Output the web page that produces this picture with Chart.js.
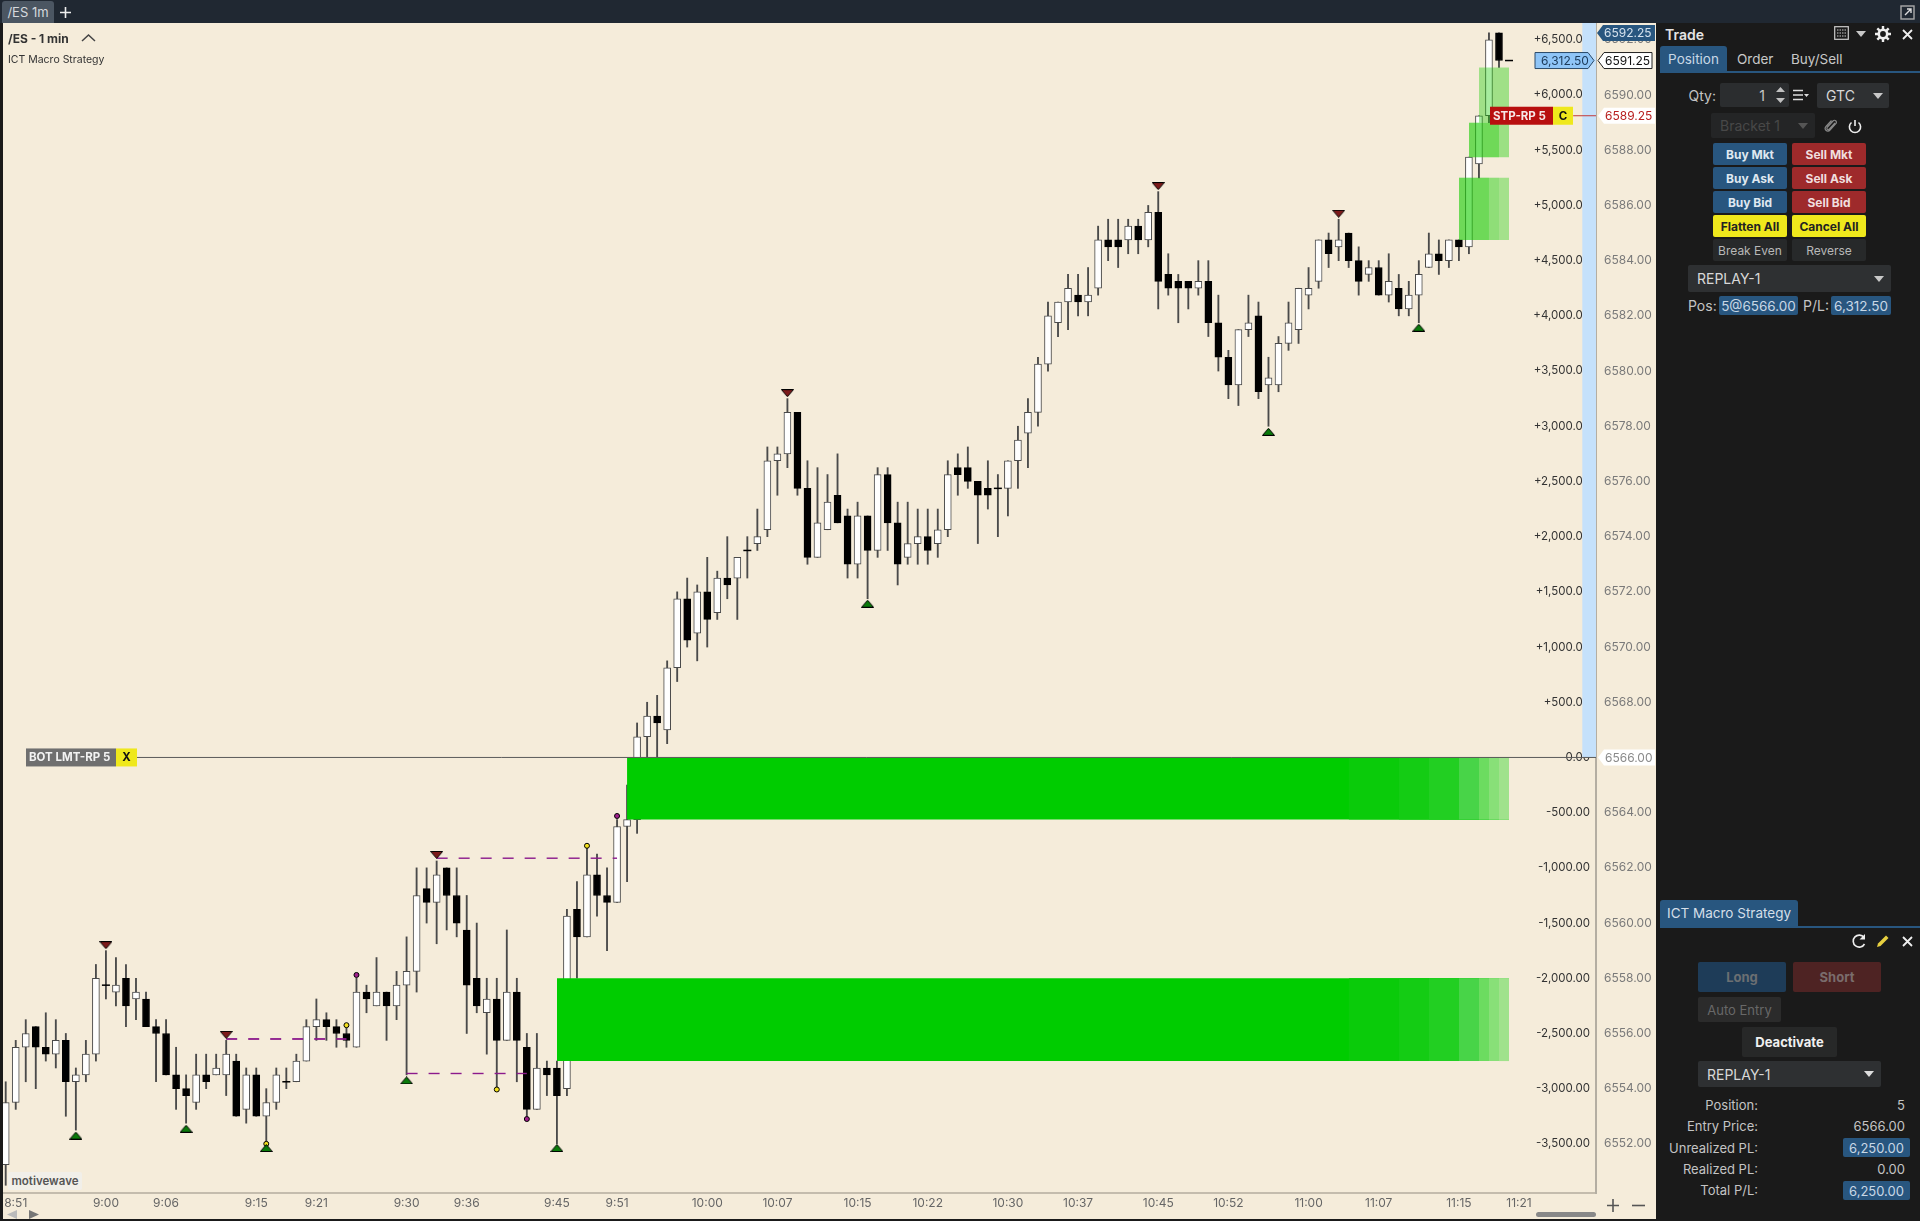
<!DOCTYPE html>
<html>
<head>
<meta charset="utf-8">
<title>/ES 1m</title>
<script src="https://cdn.jsdelivr.net/npm/chart.js@4/dist/chart.umd.min.js"></script>
<style>
html, body { margin: 0; padding: 0; width: 1920px; height: 1221px; overflow: hidden; background: #1a1a1a; font-family: Inter, "Noto Sans", sans-serif; }
.a { position: absolute; box-sizing: border-box; white-space: nowrap; }
.box { display: flex; align-items: center; justify-content: center; border-radius: 2px; }
.btn { font-weight: 700; font-size: 12px; width: 74px; height: 22px; }
.blue { background: #28567f; color: #dfe8f0; }
.red { background: #9e2a2b; color: #f0dede; }
.yel { background: #efe81c; color: #222; }
.drk { background: #27292a; color: #b8b8b8; font-weight: 400; }
.sel { background: #2e3032; color: #d8d8d8; font-size: 14px; justify-content: flex-start; padding-left: 9px; }
.lbl { color: #c4c4c4; font-size: 13px; }
.r { text-align: right; }
.tri { position: absolute; width: 0; height: 0; border-left: 5px solid transparent; border-right: 5px solid transparent; border-top: 6px solid #c8c8c8; }
</style>
</head>
<body>
<div class="a" style="left:0;top:0;width:1920px;height:23px;background:#202832"></div>
<div class="a box" style="left:2px;top:1px;width:52px;height:22px;background:#4b5662;color:#d5d9dd;font-size:13px;border-radius:3px 3px 0 0">/ES 1m</div>
<svg class="a" style="left:59px;top:6px" width="13" height="13"><path d="M6.5 1V12M1 6.5H12" stroke="#eee" stroke-width="1.6"/></svg>
<svg class="a" style="left:1900px;top:5px" width="15" height="15"><rect x="1" y="1" width="13" height="13" fill="none" stroke="#aaa" stroke-width="1.4"/><path d="M5 10L11 4M7 4H11V8" stroke="#ddd" stroke-width="1.4" fill="none"/></svg>

<canvas id="chart" class="a" style="left:3px;top:23px;background:#f5ecda" width="1653" height="1196"></canvas>

<div class="a" style="left:8px;top:31px;font-size:12px;font-weight:700;color:#333">/ES - 1 min</div>
<svg class="a" style="left:81px;top:33px" width="15" height="10"><path d="M1 8L7.5 2L14 8" stroke="#444" stroke-width="1.5" fill="none"/></svg>
<div class="a" style="left:8px;top:53px;font-size:10.5px;color:#333">ICT Macro Strategy</div>
<div class="a box" style="left:8px;top:1172px;width:74px;height:18px;background:#f1efe9;color:#555;font-size:11.5px;font-weight:600">motivewave</div>
<svg class="a" style="left:7px;top:1210px" width="32" height="9"><path d="M0 4.5L10 0V9Z" fill="#bbb"/><path d="M32 4.5L22 0V9Z" fill="#777"/></svg>
<svg class="a" style="left:1606px;top:1199px" width="40" height="13"><path d="M7 0V13M1 6.5H13" stroke="#555" stroke-width="1.6"/><path d="M26 6.5H39" stroke="#555" stroke-width="1.6"/></svg>
<div class="a" style="left:1536px;top:1212px;width:60px;height:5px;background:#888;border-radius:3px"></div>

<!-- trade panel -->
<div class="a" style="left:1665px;top:26px;font-size:14px;font-weight:600;color:#e4e4e4">Trade</div>
<svg class="a" style="left:1834px;top:26px" width="15" height="14"><rect x="0.7" y="0.7" width="13.6" height="12.6" fill="none" stroke="#ccc" stroke-width="1.2"/><path d="M3 4H12M3 7H12M3 10H12" stroke="#ccc" stroke-dasharray="1.5 1"/></svg>
<div class="tri" style="left:1856px;top:31px"></div>
<svg class="a" style="left:1875px;top:26px" width="16" height="16" viewBox="0 0 16 16"><circle cx="8" cy="8" r="4.2" fill="none" stroke="#eee" stroke-width="2.6"/><path d="M8 0V3M8 13V16M0 8H3M13 8H16M2.3 2.3L4.4 4.4M11.6 11.6L13.7 13.7M2.3 13.7L4.4 11.6M11.6 4.4L13.7 2.3" stroke="#eee" stroke-width="2.4"/></svg>
<svg class="a" style="left:1902px;top:29px" width="11" height="11"><path d="M1 1L10 10M10 1L1 10" stroke="#eee" stroke-width="1.8"/></svg>

<div class="a box" style="left:1660px;top:46px;width:67px;height:26px;background:#28567f;color:#c8d8e6;font-size:13.5px;border-radius:3px 3px 0 0">Position</div>
<div class="a" style="left:1737px;top:51px;font-size:13.5px;color:#c8c8c8">Order</div>
<div class="a" style="left:1791px;top:51px;font-size:13.5px;color:#c8c8c8">Buy/Sell</div>
<div class="a" style="left:1660px;top:71px;width:260px;height:1.5px;background:#28567f"></div>

<div class="a lbl r" style="left:1680px;top:87px;width:36px;font-size:14px">Qty:</div>
<div class="a box" style="left:1720px;top:83px;width:69px;height:24px;background:#2b2d2f;color:#c8c8c8;font-size:14px;justify-content:flex-end;padding-right:24px">1</div>
<svg class="a" style="left:1775px;top:86px" width="11" height="18"><path d="M1 6L5.5 1L10 6ZM1 12L5.5 17L10 12Z" fill="#c0c0c0"/></svg>
<svg class="a" style="left:1793px;top:89px" width="16" height="12"><path d="M0 1.5H10M0 6H10M0 10.5H10" stroke="#ddd" stroke-width="1.5"/><path d="M11 5H16L13.5 8Z" fill="#ddd"/></svg>
<div class="a box sel" style="left:1817px;top:83px;width:72px;height:25px">GTC</div>
<div class="tri" style="left:1873px;top:93px"></div>
<div class="a box" style="left:1711px;top:113px;width:104px;height:25px;background:#242526;color:#484848;font-size:14px;justify-content:flex-start;padding-left:9px">Bracket 1</div>
<div class="tri" style="left:1798px;top:123px;border-top-color:#555"></div>
<svg class="a" style="left:1824px;top:118px" width="15" height="16"><path d="M11 5L5.5 11C4 12.8 2 11 3.5 9L9 3C10.8 1 13.5 3.5 11.8 5.6L6 12C3.5 15 -0.5 11.5 2 8.5L7.5 2.5" fill="none" stroke="#888" stroke-width="1.2"/></svg>
<svg class="a" style="left:1848px;top:119px" width="14" height="15"><path d="M7 1V7M3.5 3.5A5.6 5.6 0 1 0 10.5 3.5" fill="none" stroke="#eee" stroke-width="1.6"/></svg>

<div class="a box btn blue" style="left:1713px;top:143px">Buy Mkt</div>
<div class="a box btn red" style="left:1792px;top:143px">Sell Mkt</div>
<div class="a box btn blue" style="left:1713px;top:167px">Buy Ask</div>
<div class="a box btn red" style="left:1792px;top:167px">Sell Ask</div>
<div class="a box btn blue" style="left:1713px;top:191px">Buy Bid</div>
<div class="a box btn red" style="left:1792px;top:191px">Sell Bid</div>
<div class="a box btn yel" style="left:1713px;top:215px">Flatten All</div>
<div class="a box btn yel" style="left:1792px;top:215px">Cancel All</div>
<div class="a box btn drk" style="left:1713px;top:239px">Break Even</div>
<div class="a box btn drk" style="left:1792px;top:239px">Reverse</div>

<div class="a box sel" style="left:1688px;top:265px;width:203px;height:27px">REPLAY-1</div>
<div class="tri" style="left:1874px;top:276px"></div>
<div class="a lbl" style="left:1688px;top:297px;font-size:14px">Pos:</div>
<div class="a box blue" style="left:1719px;top:296px;width:79px;height:19px;font-size:13.5px;color:#c8d8e6">5@6566.00</div>
<div class="a lbl" style="left:1803px;top:297px;font-size:14px">P/L:</div>
<div class="a box blue" style="left:1831px;top:296px;width:60px;height:19px;font-size:13.5px;color:#c8d8e6">6,312.50</div>

<!-- strategy panel -->
<div class="a box" style="left:1660px;top:900px;width:138px;height:26px;background:#28567f;color:#d5dfe8;font-size:13.5px;border-radius:3px 3px 0 0">ICT Macro Strategy</div>
<div class="a" style="left:1660px;top:926px;width:260px;height:1.5px;background:#28567f"></div>
<svg class="a" style="left:1851px;top:934px" width="15" height="15"><path d="M13 3.5A6 6 0 1 0 13.5 10" fill="none" stroke="#eee" stroke-width="1.6"/><path d="M14 0V5.5H8.5Z" fill="#eee"/></svg>
<svg class="a" style="left:1875px;top:934px" width="15" height="15"><path d="M2 13L3 9.5L11 1.5L13.5 4L5.5 12Z" fill="#e8d040"/></svg>
<svg class="a" style="left:1902px;top:936px" width="11" height="11"><path d="M1 1L10 10M10 1L1 10" stroke="#eee" stroke-width="1.8"/></svg>

<div class="a box" style="left:1698px;top:962px;width:88px;height:30px;background:#1e3c58;color:#6b6f72;font-size:13px;font-weight:700">Long</div>
<div class="a box" style="left:1793px;top:962px;width:88px;height:30px;background:#4e2323;color:#7a6c6c;font-size:13px;font-weight:700">Short</div>
<div class="a box" style="left:1698px;top:997px;width:83px;height:25px;background:#2b2b2b;color:#686868;font-size:13px">Auto Entry</div>
<div class="a box" style="left:1742px;top:1027px;width:95px;height:30px;background:#272828;color:#f0f0f0;font-size:13px;font-weight:700">Deactivate</div>
<div class="a box sel" style="left:1698px;top:1061px;width:183px;height:26px">REPLAY-1</div>
<div class="tri" style="left:1864px;top:1071px;border-top-color:#ddd"></div>

<div class="a lbl r" style="left:1660px;top:1097px;width:98px">Position:</div>
<div class="a lbl r" style="left:1845px;top:1097px;width:60px">5</div>
<div class="a lbl r" style="left:1660px;top:1118px;width:98px">Entry Price:</div>
<div class="a lbl r" style="left:1845px;top:1118px;width:60px">6566.00</div>
<div class="a lbl r" style="left:1660px;top:1140px;width:98px">Unrealized PL:</div>
<div class="a box blue" style="left:1843px;top:1138px;width:67px;height:19px;font-size:13px;color:#c8d8e6">6,250.00</div>
<div class="a lbl r" style="left:1660px;top:1161px;width:98px">Realized PL:</div>
<div class="a lbl r" style="left:1845px;top:1161px;width:60px">0.00</div>
<div class="a lbl r" style="left:1660px;top:1182px;width:98px">Total P/L:</div>
<div class="a box blue" style="left:1843px;top:1181px;width:67px;height:19px;font-size:13px;color:#c8d8e6">6,250.00</div>

<script>
// candles, one entry per minute starting 8:50
const opens = [
  6551.25,6553.5,6555.5,6556.25,6555.5,6555.25,6555.75,6554.25,6554.5,6555.25,
  6557.75,6557.5,6558,6557.25,6557.25,6556.25,6556,6554.5,6554,6553.5,
  6554.5,6554.5,6554.5,6555,6553.25,6554.5,6553,6553.5,6554.25,6554.25,
  6555,6556.25,6556.5,6556.25,6556,6555.5,6557.5,6557,6557.5,6557,
  6557.75,6558.25,6561.25,6560.75,6562,6561,6559.75,6558,6556.75,6557.25,
  6555.75,6557.5,6555.5,6553.25,6554.75,6554.75,6554,6560.5,6559.5,6561.75,
  6561,6560.75,6563.5,6563.75,6566.75,6567.5,6567,6569.25,6571.75,6570.5,
  6572,6571.25,6572.5,6572.5,6573.5,6573.75,6574.25,6576.75,6577,6578.5,
  6575.75,6573.25,6574.25,6575.5,6574.75,6573,6574.75,6573.5,6576.25,6574.5,
  6573.25,6573.75,6574,6573.75,6574.25,6576.5,6576.5,6576,6575.75,6575.75,
  6575.75,6576.75,6577.75,6578.5,6580.25,6581.75,6582.5,6582.75,6582.5,6583,
  6584.75,6584.75,6584.75,6585.25,6584.75,6585.75,6583.5,6583.25,6583.25,6583,
  6583.25,6581.75,6580.5,6579.5,6581.5,6582,6579.5,6579.5,6581,6581.5,
  6582.75,6583.25,6584.75,6584.5,6585,6584,6583.5,6583.75,6582.75,6583,
  6582.25,6582.75,6583.75,6584.25,6584,6584.75,6584.5,6587.5,6589.25,6592.25,
  6591.25
];
const highs = [
  6554.25,6555.75,6556.5,6556.25,6556.75,6556.5,6556,6554.75,6555.75,6558.5,
  6559,6558.75,6558.5,6558,6557.5,6556.5,6556.5,6555.5,6554.5,6555.25,
  6555.25,6555.25,6555.75,6555.25,6554.75,6554.75,6554,6554.75,6554.75,6555.25,
  6556.5,6557.25,6556.75,6556.5,6556.25,6558,6557.75,6558.75,6557.5,6558.25,
  6559.5,6562,6562,6562.25,6562,6562,6561,6560,6558,6558,
  6559.75,6558,6556,6556,6555,6555,6560.5,6561.5,6562.75,6562.5,
  6562,6563.75,6565,6567.25,6568,6568.25,6569.5,6572,6572.5,6572.25,
  6573.25,6572.75,6574,6573.25,6574,6575,6577.25,6577.25,6579,6578.5,
  6576.75,6576.5,6576.25,6577,6575,6575.25,6574.75,6576.5,6576.5,6575.25,
  6575.25,6575,6575,6575,6576.75,6577,6577.25,6576,6576.75,6576.25,
  6576.75,6578,6579,6580.5,6582.5,6582.5,6583.5,6583.5,6583.75,6585.25,
  6585.5,6585.5,6585.5,6585.5,6586,6586.5,6584.25,6583.5,6583.25,6584,
  6584,6582.75,6580.75,6581.5,6582.75,6582.5,6580.5,6581.25,6582.5,6583,
  6583.75,6584.75,6585,6585.5,6585,6584.5,6584,6584,6584.25,6583.5,
  6583.25,6584,6585,6584.75,6584.75,6584.75,6587.75,6589.25,6592.25,6592.25,
  6591.25
];
const lows = [
  6550.5,6553.25,6554.25,6554,6555,6554.75,6553,6552.5,6554.25,6555,
  6557.25,6557,6556.25,6556.5,6556.25,6554.25,6554.5,6553.25,6552.75,6553.25,
  6554,6554.5,6553.75,6553,6552.75,6553,6552,6553.25,6554,6554.25,
  6555,6555.75,6555.75,6555.5,6555.5,6555.5,6556.75,6557,6555.75,6556.5,
  6554.5,6557.5,6560,6559.25,6559.75,6559.5,6556,6556.75,6555.25,6554,
  6555.75,6554.25,6553,6553.25,6553.75,6552,6553.75,6558,6559.5,6560.25,
  6559,6560.75,6561.5,6563.25,6565.5,6566,6566.5,6568.75,6570,6569.5,
  6570,6571,6571.75,6571,6572.5,6573.5,6574,6575.5,6576.5,6575.5,
  6573,6573.25,6574.25,6574.5,6572.5,6572.5,6571.75,6573.25,6573.5,6572.25,
  6573,6573,6573,6573.25,6574,6575.5,6575.75,6573.75,6575,6574,
  6574.75,6575.75,6576.5,6578,6580,6581.25,6581.5,6582,6582,6582.75,
  6584,6583.75,6584.25,6584.25,6584.5,6582.25,6582.75,6581.75,6582.25,6582.75,
  6581.25,6580,6579,6578.75,6581.25,6579,6578,6579.25,6580.75,6581,
  6582.25,6583,6583.75,6584,6583.75,6582.75,6583.25,6582.75,6582.5,6582,
  6582,6581.75,6583.75,6583.5,6583.75,6584,6584.25,6587,6589,6591,
  6591.25
];
const closes = [
  6553.5,6555.5,6556,6555.5,6555.25,6555.75,6554.25,6554.5,6555.25,6558,
  6557.75,6557.75,6557,6557.5,6556.25,6556,6554.5,6554,6553.75,6554.5,
  6554.25,6554.75,6555.25,6553,6554.5,6553,6553.5,6554.5,6554.25,6555,
  6556.25,6556.5,6556.25,6556,6555.75,6557.5,6557.25,6557.5,6557,6557.75,
  6558.25,6561,6560.75,6561.75,6561,6560,6557.75,6557,6557.25,6555.75,
  6557.5,6555.75,6553.25,6554.75,6554.5,6553.75,6560.25,6559.5,6561.75,6561,
  6560.75,6563.5,6563.75,6566.75,6567.5,6567.25,6569.25,6571.75,6570.25,6572,
  6571,6572.5,6572.25,6573.25,6573.5,6574,6576.75,6577,6578.5,6575.75,
  6573.25,6574.5,6575.25,6574.5,6573,6574.75,6573.5,6576.25,6574.5,6573,
  6573.75,6574,6573.5,6574.25,6576.25,6576.25,6576,6575.5,6575.5,6575.75,
  6576.75,6577.5,6578.5,6580.25,6582,6582.5,6583,6582.5,6582.75,6584.75,
  6584.5,6584.5,6585.25,6584.75,6585.75,6583.25,6583,6583,6583,6583.25,
  6581.75,6580.5,6579.5,6581.5,6581.75,6579.25,6579.75,6581,6581.75,6583,
  6583,6584.75,6584.25,6584.75,6584,6583.25,6583.75,6582.75,6583.25,6582.25,
  6582.75,6583.5,6584.25,6584,6584.75,6584.5,6587.75,6589.25,6592,6591.25,
  6591.25
];

// time axis
const timeTickIdx = [1,10,16,25,31,40,46,55,61,70,77,85,92,100,107,115,122,130,137,145,151];
const timeLabels = ['8:51','9:00','9:06','9:15','9:21','9:30','9:36','9:45','9:51','10:00','10:07','10:15','10:22','10:30','10:37','10:45','10:52','11:00','11:07','11:15','11:21'];

// price axis and the profit/loss axis next to it
const priceTicks = [6552,6554,6556,6558,6560,6562,6564,6566,6568,6570,6572,6574,6576,6578,6580,6582,6584,6586,6588,6590,6592];
const plTicks = [-3500,-3000,-2500,-2000,-1500,-1000,-500,0,500,1000,1500,2000,2500,3000,3500,4000,4500,5000,5500,6000,6500];
const entryPrice = 6566;
const dollarsPerPoint = 250;
const stopPrice = 6589.25;
const lastPrice = 6591.25;
const highPrice = 6592.25;

// swing markers
const swingHighIdx = [10,22,43,78,115,133];
const swingHighPrice = [6559.2,6555.95,6562.47,6579.2,6586.7,6585.7];
const swingLowIdx = [7,18,26,40,55,86,126,141];
const swingLowPrice = [6552.3,6552.55,6551.85,6554.3,6551.85,6571.57,6577.8,6581.57];

// small dots
const purpleDotIdx = [35,52,61];
const purpleDotPrice = [6558.12,6552.9,6563.88];
const yellowDotIdx = [26,34,49,58];
const yellowDotPrice = [6552.0,6556.3,6553.97,6562.8];

// dashed levels
const levelPrice = [6555.8,6562.35,6554.55];
const levelFrom = [22,43,40];
const levelTo = [34,61,52];

// big fair value gaps, they fade out towards the right
const gapStart = [62,55];
const gapEnd = 150;
const gapTop = [6566,6558];
const gapBottom = [6563.75,6555];
const fadeFrom = [134,139,142,145,147,148,149];
const fadeColors = ['#00cc00','#0acb0a','#14cc14','#22cf22','#48d448','#6cdc60','#88e078','#a0e28c'];

// small gaps at the end of the run, drawn in see-through layers
const smallGapFrom = [145,146,147];
const smallGapTop = [6587,6589,6591];
const smallGapBottom = [6584.75,6587.75,6589];
const smallGapLayerEnd = [[150,149,148],[150,149],[150]];
const smallGapLayerAlpha = [[0.36,0.14,0.27],[0.4,0.33],[0.38]];

// plot limits
const xMin = -0.27, xMax = 158.68;
const yMin = 6550.22, yMax = 6592.61;
const bandFrom = 157.3;
const chartFont = 'Inter, "Noto Sans", sans-serif';

function rect(x0, x1, top, bottom, color, order) {
    return {
        type: 'line',
        data: [{ x: x0, y: top }, { x: x1, y: top }],
        borderWidth: 0,
        pointRadius: 0,
        backgroundColor: color,
        fill: { value: bottom },
        order: order
    };
}

function hline(x0, x1, y, color, width, dash, order) {
    return {
        type: 'line',
        data: [{ x: x0, y: y }, { x: x1, y: y }],
        borderColor: color,
        borderWidth: width,
        borderDash: dash,
        pointRadius: 0,
        fill: false,
        order: order
    };
}

function triangle(up, fill) {
    const c = document.createElement('canvas');
    c.width = 13;
    c.height = 8;
    const g = c.getContext('2d');
    g.beginPath();
    if (up) {
        g.moveTo(6.5, 0.5); g.lineTo(12.5, 7.5); g.lineTo(0.5, 7.5);
    } else {
        g.moveTo(0.5, 0.5); g.lineTo(12.5, 0.5); g.lineTo(6.5, 7.5);
    }
    g.closePath();
    g.fillStyle = fill;
    g.fill();
    g.strokeStyle = '#000';
    g.lineWidth = 1;
    g.stroke();
    return c;
}

function markers(idx, prices, style, fill, radius, order) {
    return {
        type: 'scatter',
        data: idx.map((v, i) => ({ x: v, y: prices[i] })),
        pointStyle: style,
        pointRadius: radius,
        pointBackgroundColor: fill,
        pointBorderColor: '#000',
        pointBorderWidth: 1,
        order: order
    };
}

const candleIdx = opens.map((_, i) => i);
const solidIdx = candleIdx.filter(i => opens[i] !== closes[i]);
const dojiIdx = candleIdx.filter(i => opens[i] === closes[i]);

const datasets = [];

datasets.push(rect(bandFrom, xMax, yMax, entryPrice, '#c5e1fb', 9));

datasets.push({
    type: 'bar',
    grouped: false,
    barThickness: 1.2,
    data: candleIdx.map(i => ({ x: i, y: [lows[i], highs[i]] })),
    backgroundColor: '#4a4a4a',
    order: 6
});
datasets.push({
    type: 'bar',
    grouped: false,
    barThickness: 7,
    data: solidIdx.map(i => ({ x: i, y: [opens[i], closes[i]] })),
    backgroundColor: solidIdx.map(i => closes[i] > opens[i] ? '#ffffff' : '#000000'),
    borderColor: solidIdx.map(i => closes[i] > opens[i] ? '#4a4a4a' : '#000000'),
    borderWidth: 1,
    borderSkipped: false,
    order: 5
});
datasets.push({
    type: 'scatter',
    data: dojiIdx.map(i => ({ x: i, y: closes[i] })),
    pointStyle: 'line',
    pointRadius: 4,
    pointBorderColor: '#000',
    pointBorderWidth: 1.5,
    order: 4
});

levelPrice.forEach((p, i) => {
    datasets.push(hline(levelFrom[i], levelTo[i], p, '#8c1a8c', i === 0 ? 1.8 : 1.4, [11, 11], 3));
});

// each fade step runs to the end of the gap and paints over the one before it, so no seams
gapStart.forEach((start, g) => {
    fadeColors.forEach((color, k) => {
        const from = k === 0 ? start : fadeFrom[k - 1];
        datasets.push(rect(from, gapEnd, gapTop[g], gapBottom[g], color, 2.9 - k * 0.1));
    });
});
smallGapFrom.forEach((from, g) => {
    smallGapLayerAlpha[g].forEach((alpha, k) => {
        const color = 'rgba(20,204,0,' + alpha + ')';
        datasets.push(rect(from, smallGapLayerEnd[g][k], smallGapTop[g], smallGapBottom[g], color, 2));
    });
});

datasets.push(hline(13.1, xMax, entryPrice, '#5a5a5a', 1, [], 1));
datasets.push(hline(156.4, xMax, stopPrice, '#c23a3a', 1, [], 1));

datasets.push(markers(swingHighIdx, swingHighPrice, triangle(false, '#7d1a1a'), '#7d1a1a', 5, 0));
datasets.push(markers(swingLowIdx, swingLowPrice, triangle(true, '#0a7a0a'), '#0a7a0a', 5, 0));
datasets.push(markers(purpleDotIdx, purpleDotPrice, 'circle', '#a01f8c', 2.5, 0));
datasets.push(markers(yellowDotIdx, yellowDotPrice, 'circle', '#f4e11e', 2.5, 0));

function priceTag(ctx, left, right, y, text, fill, color, stroke, pointRight) {
    const h = 8;
    ctx.beginPath();
    if (pointRight) {
        ctx.moveTo(left, y - h); ctx.lineTo(right - 6, y - h); ctx.lineTo(right, y);
        ctx.lineTo(right - 6, y + h); ctx.lineTo(left, y + h);
    } else {
        ctx.moveTo(left, y); ctx.lineTo(left + 6, y - h); ctx.lineTo(right, y - h);
        ctx.lineTo(right, y + h); ctx.lineTo(left + 6, y + h);
    }
    ctx.closePath();
    ctx.fillStyle = fill;
    ctx.fill();
    if (stroke) {
        ctx.strokeStyle = stroke;
        ctx.lineWidth = 1;
        ctx.stroke();
    }
    ctx.fillStyle = color;
    ctx.font = '12px ' + chartFont;
    ctx.textAlign = 'left';
    ctx.textBaseline = 'middle';
    ctx.fillText(text, pointRight ? left + 6 : left + 7, y + 0.5);
}

function orderTag(ctx, x0, x1, x2, y, text, fill, color, mark) {
    ctx.fillStyle = fill;
    ctx.fillRect(x0, y - 9, x1 - x0, 18);
    ctx.fillStyle = '#efe81c';
    ctx.fillRect(x1, y - 9, x2 - x1, 18);
    ctx.font = '700 11.5px ' + chartFont;
    ctx.textBaseline = 'middle';
    ctx.textAlign = 'left';
    ctx.fillStyle = color;
    ctx.fillText(text, x0 + 3, y + 0.5);
    ctx.textAlign = 'center';
    ctx.fillStyle = '#111';
    ctx.fillText(mark, (x1 + x2) / 2, y + 0.5);
}

// the order and price flags sit on top of everything, y comes from the price scale
const tagsPlugin = {
    id: 'tags',
    afterDraw(chart) {
        const ctx = chart.ctx;
        const sy = chart.scales.y;
        const r = chart.chartArea.right;
        ctx.save();
        orderTag(ctx, 23, 113, 134, sy.getPixelForValue(entryPrice), 'BOT LMT-RP 5', '#6f6f6f', '#f2f2f2', 'X');
        orderTag(ctx, 1487, 1550, 1570, sy.getPixelForValue(stopPrice), 'STP-RP 5', '#b80f0f', '#f6e8e8', 'C');
        priceTag(ctx, r + 2, r + 59, sy.getPixelForValue(entryPrice), entryPrice.toFixed(2), '#ffffff', '#8a8a8a', null, false);
        priceTag(ctx, r + 2, r + 59, sy.getPixelForValue(stopPrice), stopPrice.toFixed(2), '#ffffff', '#b82020', null, false);
        priceTag(ctx, r + 2, r + 56, sy.getPixelForValue(lastPrice), lastPrice.toFixed(2), '#ffffff', '#111', '#222', false);
        priceTag(ctx, r + 1, r + 59, sy.getPixelForValue(highPrice), highPrice.toFixed(2), '#28567f', '#d5e2ee', null, false);
        const pl = (lastPrice - entryPrice) * dollarsPerPoint;
        const plText = pl.toLocaleString('en-US', { minimumFractionDigits: 2 });
        priceTag(ctx, r - 61, r - 2, sy.getPixelForValue(lastPrice), plText, '#8fc5f7', '#1c3a5a', '#2a4a6a', true);
        ctx.restore();
    }
};

function formatPL(value) {
    const text = Math.abs(value).toLocaleString('en-US', { minimumFractionDigits: 2 });
    if (value === 0) return text;
    return (value > 0 ? '+' : '-') + text;
}

// keep the labels from pushing the plot area around
function noPadding(axis) {
    axis.paddingTop = 0;
    axis.paddingBottom = 0;
    axis.paddingLeft = 0;
    axis.paddingRight = 0;
}

new Chart(document.getElementById('chart').getContext('2d'), {
    type: 'bar',
    data: { datasets: datasets },
    plugins: [tagsPlugin],
    options: {
        responsive: false,
        animation: false,
        devicePixelRatio: 1,
        layout: { padding: 0, autoPadding: false },
        plugins: {
            legend: { display: false },
            tooltip: { enabled: false },
            title: { display: false }
        },
        scales: {
            x: {
                type: 'linear',
                min: xMin,
                max: xMax,
                offset: false,
                grid: { display: false, drawTicks: false },
                border: { color: '#c4bcad', width: 2 },
                afterBuildTicks: axis => { axis.ticks = timeTickIdx.map(v => ({ value: v })); },
                afterFit: axis => { axis.height = 26; noPadding(axis); },
                ticks: {
                    autoSkip: false,
                    maxRotation: 0,
                    padding: 3,
                    color: '#666',
                    font: { family: chartFont, size: 12 },
                    callback: value => timeLabels[timeTickIdx.indexOf(value)]
                }
            },
            y: {
                type: 'linear',
                position: 'right',
                weight: 1,
                min: yMin,
                max: yMax,
                grid: { display: false, drawTicks: false },
                border: { color: '#b4aea2', width: 2 },
                afterBuildTicks: axis => { axis.ticks = priceTicks.map(v => ({ value: v })); },
                afterFit: axis => { axis.width = 60; noPadding(axis); },
                ticks: {
                    padding: 8,
                    color: '#7a7a7a',
                    font: { family: chartFont, size: 12 },
                    callback: value => value.toFixed(2)
                }
            },
            pl: {
                type: 'linear',
                position: 'right',
                weight: 0,
                z: 1,
                min: (yMin - entryPrice) * dollarsPerPoint,
                max: (yMax - entryPrice) * dollarsPerPoint,
                grid: { display: false, drawTicks: false },
                border: { display: false },
                afterBuildTicks: axis => { axis.ticks = plTicks.map(v => ({ value: v })); },
                afterFit: axis => { axis.width = 0; noPadding(axis); },
                ticks: {
                    mirror: true,
                    padding: -6,
                    color: '#333',
                    font: { family: chartFont, size: 11.5 },
                    callback: value => formatPL(value)
                }
            }
        }
    }
});
</script>
</body>
</html>
